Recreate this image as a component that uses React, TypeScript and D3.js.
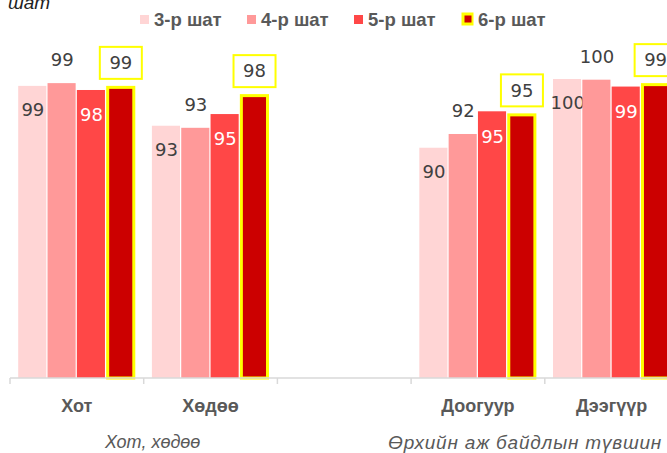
import React from "react";
import { scaleBand, scaleLinear, format } from "d3";

// categories (the empty one is the gap between the two groups)
const categories = ["Хот", "Хөдөө", "", "Доогуур", "Дээгүүр"];
const groupLabels = ["Хот, хөдөө", "Өрхийн аж байдлын түвшин"];
const groupMembers = [[0, 1], [3, 4]];

const series = ["3-р шат", "4-р шат", "5-р шат", "6-р шат"];
const grade3 = [99.0, 93.2, null, 90.0, 100.0];
const grade4 = [99.4, 92.9, null, 92.0, 99.9];
const grade5 = [98.4, 94.9, null, 95.3, 98.9];
const grade6 = [99.0, 97.8, null, 95.0, 99.4];
const seriesValues = [grade3, grade4, grade5, grade6];

const colors = ["#FFD5D5", "#FF9999", "#FF4747", "#CC0000"];
const YELLOW = "#FFFF00";
const TEXT = "#404040";
const GRAY = "#595959";

const width = 667;
const height = 453;
const baseY = 378;
const step = 133.7;

export default function App() {
  const x0 = scaleBand<number>()
    .domain(categories.map((_, i) => i))
    .range([10, 10 + step * categories.length]);

  const x1 = scaleBand<string>()
    .domain(series)
    .range([0, x0.bandwidth()])
    .paddingOuter(0.28);

  const y = scaleLinear().domain([56.5, 100]).range([baseY, 79]);
  const fmt = format(".0f");

  const bw = x1.bandwidth();

  return (
    <div style={{ position: "absolute", left: 0, top: 0 }}>
      <svg width={width} height={height} style={{ display: "block", background: "#fff" }}>
        {/* cut-off title */}
        <text x={8} y={9} fontFamily="Liberation Sans" fontStyle="italic" fontSize={19} fill="#222">
          шат
        </text>

        {/* legend */}
        {series.map((s, i) => {
          const lx = 140 + i * 107;
          return (
            <g key={s}>
              {i === 3 ? (
                <>
                  <rect x={lx + 0.5} y={12.5} width={12} height={13} fill={YELLOW} />
                  <rect x={lx + 3.5} y={15.5} width={7} height={7} fill={colors[i]} />
                </>
              ) : (
                <rect x={lx} y={15} width={9} height={9} fill={colors[i]} />
              )}
              <text
                x={lx + (i === 3 ? 17 : 14)}
                y={19.5}
                dy="0.35em"
                fontFamily="Liberation Sans"
                fontWeight="bold"
                fontSize={18.5}
                fill={GRAY}
              >
                {s}
              </text>
            </g>
          );
        })}

        {/* bars */}
        {seriesValues.map((vals, si) =>
          vals.map((v, ci) => {
            if (v == null) return null;
            const bx = (x0(ci) as number) + (x1(series[si]) as number);
            const top = y(v);
            const cx = bx + bw / 2;
            const w = bw - 1.2;
            const label = fmt(v);
            return (
              <g key={`${si}-${ci}`}>
                {si === 3 ? (
                  <rect
                    x={bx + 1.5}
                    y={top + 1.5}
                    width={w - 2}
                    height={baseY - top - 1.5}
                    fill={colors[si]}
                    stroke={YELLOW}
                    strokeWidth={3}
                  />
                ) : (
                  <rect x={bx} y={top} width={w} height={baseY - top} fill={colors[si]} />
                )}
                {si === 0 && (
                  <text x={cx} y={top + 24} dy="0.35em" textAnchor="middle" fontFamily="DejaVu Sans" fontSize={18} fill={TEXT}>
                    {label}
                  </text>
                )}
                {si === 1 && (
                  <text x={cx} y={top - 23} dy="0.35em" textAnchor="middle" fontFamily="DejaVu Sans" fontSize={18} fill={TEXT}>
                    {label}
                  </text>
                )}
                {si === 2 && (
                  <text x={cx} y={top + 25} dy="0.35em" textAnchor="middle" fontFamily="DejaVu Sans" fontSize={18} fill="#fff">
                    {label}
                  </text>
                )}
                {si === 3 && (
                  <g>
                    <rect x={cx - 21} y={top - 39} width={42} height={32} fill="#fff" stroke={YELLOW} strokeWidth={2} />
                    <text x={cx} y={top - 23} dy="0.35em" textAnchor="middle" fontFamily="DejaVu Sans" fontSize={18} fill={TEXT}>
                      {label}
                    </text>
                  </g>
                )}
              </g>
            );
          })
        )}

        {/* category axis */}
        <line x1={10} x2={width} y1={baseY} y2={baseY} stroke="#D9D9D9" strokeWidth={1.5} />
        {categories.map((_, i) => (
          <line
            key={`t${i}`}
            x1={x0(i) as number}
            x2={x0(i) as number}
            y1={baseY}
            y2={baseY + 6}
            stroke="#D9D9D9"
            strokeWidth={1.5}
          />
        ))}
        {categories.map((c, i) => (
          <text
            key={`c${i}`}
            x={(x0(i) as number) + x0.bandwidth() / 2}
            y={406}
            dy="0.35em"
            textAnchor="middle"
            fontFamily="Liberation Sans"
            fontWeight="bold"
            fontSize={18}
            fill={GRAY}
          >
            {c}
          </text>
        ))}
        {groupLabels.map((g, gi) => {
          const m = groupMembers[gi];
          const left = x0(m[0]) as number;
          const right = (x0(m[m.length - 1]) as number) + x0.bandwidth();
          return (
            <text
              key={g}
              x={gi === 0 ? (left + right) / 2 + 9 : left - 23}
              y={442}
              dy="0.35em"
              textAnchor={gi === 0 ? "middle" : "start"}
              fontFamily="Liberation Sans"
              fontStyle="italic"
              fontSize={gi === 0 ? 18 : 19}
              letterSpacing={gi === 0 ? 0 : 0.8}
              fill={GRAY}
            >
              {g}
            </text>
          );
        })}
      </svg>
    </div>
  );
}
